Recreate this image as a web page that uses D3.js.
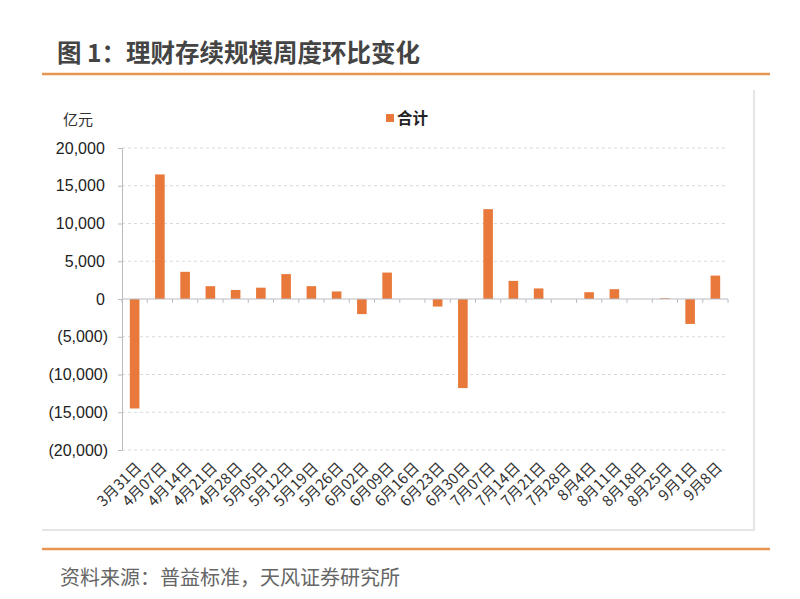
<!DOCTYPE html>
<html>
<head>
<meta charset="utf-8">
<script src="https://cdn.jsdelivr.net/npm/d3@7"></script>
<style>
  body { margin: 0; background: #fff; }
  text { font-family: "Liberation Sans", Arial, "Noto Sans CJK SC", sans-serif; }
  .cjk { font-family: "Noto Sans CJK SC", sans-serif; }
</style>
</head>
<body>
<div id="plot"></div>
<script>
// weekly change of outstanding wealth-management scale (亿元)
const categories = ["3月31日","4月07日","4月14日","4月21日","4月28日","5月05日","5月12日","5月19日",
  "5月26日","6月02日","6月09日","6月16日","6月23日","6月30日","7月07日","7月14日",
  "7月21日","7月28日","8月4日","8月11日","8月18日","8月25日","9月1日","9月8日"];
const totals = [-14500, 16500, 3600, 1700, 1200, 1500, 3300, 1700,
  1000, -2000, 3500, 0, -1000, -11800, 11900, 2400,
  1400, 0, 900, 1300, 0, 100, -3300, 3100];
const yTicks = [-20000, -15000, -10000, -5000, 0, 5000, 10000, 15000, 20000];
const seriesName = "合计";

const W = 800, H = 599;
const orange = "#E8793A";

const svg = d3.select("#plot").append("svg")
    .attr("width", W)
    .attr("height", H);

// header
svg.append("text")
    .attr("class", "cjk")
    .attr("x", 57).attr("y", 62)
    .attr("font-size", 24.5).attr("font-weight", "bold")
    .attr("fill", "#444")
    .text("图 1：理财存续规模周度环比变化");

svg.append("line")
    .attr("x1", 42).attr("x2", 770).attr("y1", 74).attr("y2", 74)
    .attr("stroke", "#E8964F").attr("stroke-width", 2.5);

// frame (right + bottom edges only visible)
svg.append("path")
    .attr("d", "M754,90 V530 H42")
    .attr("fill", "none").attr("stroke", "#ddd").attr("stroke-width", 1.5);

// scales
const x = d3.scaleBand()
    .domain(categories)
    .range([122, 728])
    .paddingInner(0.62)
    .paddingOuter(0.31);

const y = d3.scaleLinear()
    .domain([-20000, 20000])
    .range([450, 148]);

const fmt = d3.format(",");
const yFmt = d => d < 0 ? `(${fmt(-d)})` : fmt(d) + "\u2009";

// gridlines
svg.append("g")
    .selectAll("line")
    .data(yTicks.filter(d => d !== 0))
    .join("line")
    .attr("x1", 122).attr("x2", 728)
    .attr("y1", d => y(d)).attr("y2", d => y(d))
    .attr("stroke", "#d6d9de").attr("stroke-dasharray", "3,3");

// y axis
const yAxis = svg.append("g")
    .attr("transform", "translate(122,0)")
    .call(d3.axisLeft(y).tickValues(yTicks).tickFormat(yFmt).tickSize(4).tickPadding(10));
yAxis.select(".domain").attr("stroke", "#bbb");
yAxis.selectAll(".tick line").attr("stroke", "#bbb");
yAxis.selectAll(".tick text")
    .attr("font-size", 16).attr("fill", "#222")
    .attr("font-family", "'Liberation Sans', Arial, sans-serif");

// bars
svg.append("g")
    .selectAll("rect")
    .data(categories.map((c, i) => ({cat: c, v: totals[i]})))
    .join("rect")
    .attr("x", d => x(d.cat))
    .attr("width", x.bandwidth())
    .attr("y", d => y(Math.max(0, d.v)))
    .attr("height", d => Math.abs(y(d.v) - y(0)))
    .attr("fill", orange);

// zero line with category boundary ticks
const zero = svg.append("g");
zero.append("line")
    .attr("x1", 122).attr("x2", 728)
    .attr("y1", y(0)).attr("y2", y(0))
    .attr("stroke", "#b8bcc4").attr("stroke-width", 1.2);
zero.selectAll("line.t")
    .data(d3.range(categories.length + 1))
    .join("line")
    .attr("class", "t")
    .attr("x1", i => x.range()[0] + i * x.step())
    .attr("x2", i => x.range()[0] + i * x.step())
    .attr("y1", y(0)).attr("y2", y(0) + 4)
    .attr("stroke", "#b8bcc4");

// category labels, rotated, at the bottom of the plot
svg.append("g")
    .selectAll("text")
    .data(categories)
    .join("text")
    .attr("class", "cjk")
    .attr("transform", d => `translate(${x(d) + x.bandwidth() / 2 + 4},${y(-20000) + 15}) rotate(-45)`)
    .attr("text-anchor", "end")
    .attr("dy", "0.35em")
    .attr("font-size", 15)
    .attr("fill", "#333")
    .text(d => d);

// unit label
svg.append("text")
    .attr("class", "cjk")
    .attr("x", 63).attr("y", 125)
    .attr("font-size", 15).attr("fill", "#333")
    .text("亿元");

// legend
svg.append("rect")
    .attr("x", 386).attr("y", 114)
    .attr("width", 8).attr("height", 8)
    .attr("fill", orange);
svg.append("text")
    .attr("class", "cjk")
    .attr("x", 397).attr("y", 124)
    .attr("font-size", 15.5).attr("font-weight", "bold")
    .attr("fill", "#222")
    .text(seriesName);

// footer
svg.append("line")
    .attr("x1", 42).attr("x2", 770).attr("y1", 549).attr("y2", 549)
    .attr("stroke", "#E8964F").attr("stroke-width", 2.5);

svg.append("text")
    .attr("class", "cjk")
    .attr("x", 60).attr("y", 585)
    .attr("font-size", 20).attr("fill", "#666")
    .text("资料来源：普益标准，天风证券研究所");
</script>
</body>
</html>
